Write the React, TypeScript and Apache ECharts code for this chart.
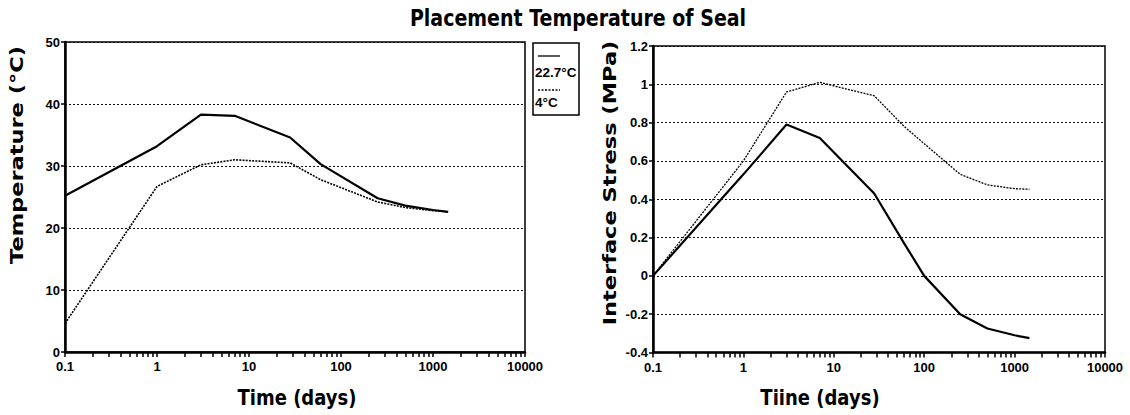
import React, { useEffect, useRef } from "react";
import * as echarts from "echarts";

const days = [0.1, 1, 3, 7, 28, 60, 250, 500, 1000, 1460];
const temp227 = [25.2, 33.2, 38.3, 38.1, 34.6, 30.3, 24.8, 23.6, 22.9, 22.6];
const temp4 = [4.6, 26.7, 30.2, 31.0, 30.5, 27.8, 24.2, 23.3, 22.8, 22.6];

const stressDays = [0.1, 1, 3, 7, 28, 60, 100, 250, 500, 1000, 1460];
const stress227 = [0, 0.53, 0.79, 0.72, 0.43, 0.17, 0.0, -0.2, -0.275, -0.31, -0.325];
const stress4 = [0, 0.6, 0.96, 1.01, 0.94, 0.78, 0.69, 0.53, 0.475, 0.455, 0.452];

const legendNames = ["22.7°C", "4°C"];
const titleText = "Placement Temperature of Seal";
const xName1 = "Time (days)";
const xName2 = "Tiine (days)";
const yName1 = "Temperature (°C)";
const yName2 = "Interface Stress (MPa)";

const decades = [0.1, 1, 10, 100, 1000];
const minorTicks: number[] = [];
decades.forEach((d) => {
  for (let k = 1; k <= 9; k++) minorTicks.push(+(k * d).toPrecision(3));
});
minorTicks.push(10000);

const LAB = "'Liberation Sans', Arial, sans-serif";
const TIT = "'DejaVu Sans', sans-serif";

export default function App() {
  const ref = useRef<HTMLDivElement>(null);
  useEffect(() => {
    document.body.style.margin = "0";
    const chart = echarts.init(ref.current!, null, { renderer: "svg" });
    const xAxisBase = (gridIndex: number) => ({
      type: "log",
      logBase: 10,
      gridIndex,
      min: 0.1,
      max: 10000,
      axisLine: { show: true, onZero: false, lineStyle: { color: "#000", width: 2.5 } },
      axisTick: { show: true, inside: false, length: 5, customValues: minorTicks, lineStyle: { color: "#000", width: 1.5 } },
      axisLabel: {
        color: "#000",
        fontFamily: LAB,
        fontWeight: "bold",
        fontSize: 13,
        margin: 8,
        formatter: (v: number) => String(v),
      },
      splitLine: { show: false },
      minorTick: { show: false },
    });
    const yAxisBase = (gridIndex: number, min: number, max: number, interval: number) => ({
      type: "value",
      gridIndex,
      min,
      max,
      interval,
      axisLine: { show: true, onZero: false, lineStyle: { color: "#000", width: 2.5 } },
      axisTick: { show: true, inside: false, length: 4, lineStyle: { color: "#000", width: 1.5 } },
      axisLabel: {
        color: "#000",
        fontFamily: LAB,
        fontWeight: "bold",
        fontSize: 13,
        margin: 5,
        formatter: (v: number) => String(Math.round(v * 10) / 10),
      },
      splitLine: { show: true, lineStyle: { color: "#111", width: 1.2, type: [2, 2] } },
    });
    const solid = { color: "#000", width: 2.2, type: "solid" };
    const dotted = { color: "#000", width: 1.6, type: [2, 1.2] };
    const titleFont = { fontFamily: TIT, fontWeight: "bold", fill: "#000", align: "center", verticalAlign: "middle" };
    chart.setOption({
      animation: false,
      backgroundColor: "#fff",
      grid: [
        { left: 65, top: 42, width: 460, height: 310, show: true, borderColor: "#000", borderWidth: 1.5, backgroundColor: "transparent" },
        { left: 653, top: 46, width: 452, height: 306.5, show: true, borderColor: "#000", borderWidth: 1.5, backgroundColor: "transparent" },
      ],
      xAxis: [xAxisBase(0), xAxisBase(1)],
      yAxis: [yAxisBase(0, 0, 50, 10), yAxisBase(1, -0.4, 1.2, 0.2)],
      series: [
        { name: legendNames[0], type: "line", xAxisIndex: 0, yAxisIndex: 0, symbol: "none", lineStyle: solid, data: days.map((d, i) => [d, temp227[i]]) },
        { name: legendNames[1], type: "line", xAxisIndex: 0, yAxisIndex: 0, symbol: "none", lineStyle: dotted, data: days.map((d, i) => [d, temp4[i]]) },
        { name: legendNames[0] + " stress", type: "line", xAxisIndex: 1, yAxisIndex: 1, symbol: "none", lineStyle: solid, data: stressDays.map((d, i) => [d, stress227[i]]) },
        { name: legendNames[1] + " stress", type: "line", xAxisIndex: 1, yAxisIndex: 1, symbol: "none", lineStyle: { ...dotted, width: 1.3 }, data: stressDays.map((d, i) => [d, stress4[i]]) },
      ],
      graphic: [
        { type: "text", x: 578, y: 18, scaleY: 1.2, style: { ...titleFont, text: titleText, fontSize: 19 } },
        { type: "text", x: 297, y: 398, scaleY: 1.2, style: { ...titleFont, text: xName1, fontSize: 18 } },
        { type: "text", x: 820, y: 398, scaleY: 1.2, style: { ...titleFont, text: xName2, fontSize: 18 } },
        { type: "text", x: 17, y: 155, rotation: Math.PI / 2, scaleX: 1.25, style: { ...titleFont, text: yName1, fontSize: 18 } },
        { type: "text", x: 610, y: 183, rotation: Math.PI / 2, scaleX: 1.25, style: { ...titleFont, text: yName2, fontSize: 18 } },
        { type: "rect", shape: { x: 533, y: 43, width: 46, height: 72 }, style: { fill: "#fff", stroke: "#000", lineWidth: 1.5 } },
        { type: "line", shape: { x1: 538, y1: 56, x2: 560, y2: 56 }, style: { stroke: "#000", lineWidth: 1.3 } },
        { type: "text", x: 535, y: 72, style: { text: legendNames[0], fontFamily: LAB, fontWeight: "bold", fontSize: 13.5, fill: "#000", verticalAlign: "middle" } },
        { type: "line", shape: { x1: 538, y1: 90, x2: 560, y2: 90 }, style: { stroke: "#000", lineWidth: 1.3, lineDash: [2, 1.5] } },
        { type: "text", x: 535, y: 102, style: { text: legendNames[1], fontFamily: LAB, fontWeight: "bold", fontSize: 13.5, fill: "#000", verticalAlign: "middle" } },
      ],
    });
    return () => chart.dispose();
  }, []);
  return <div ref={ref} style={{ width: 1130, height: 415 }} />;
}
